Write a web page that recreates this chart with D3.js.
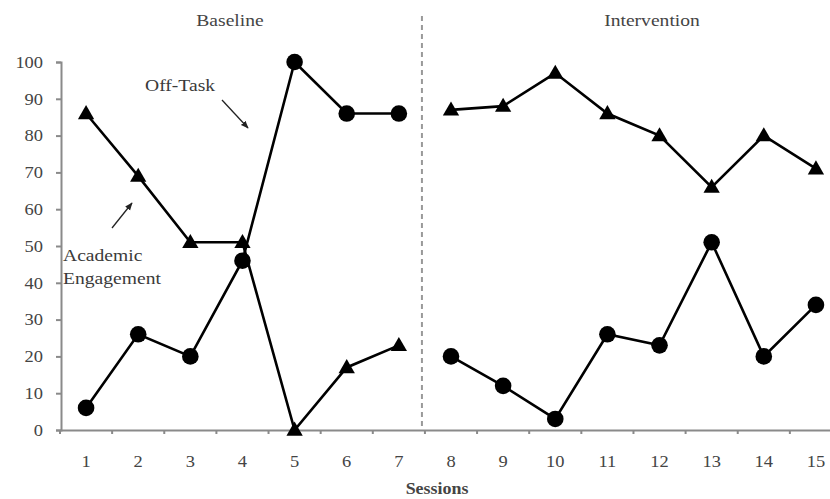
<!DOCTYPE html>
<html><head><meta charset="utf-8">
<script src="https://cdn.jsdelivr.net/npm/d3@7"></script>
<style>body{margin:0;background:#fff;}svg{display:block;}</style>
</head><body>
<svg id="chart" width="830" height="499"></svg>
<script>
const sessions = [1,2,3,4,5,6,7,8,9,10,11,12,13,14,15];
const yTicks = [0,10,20,30,40,50,60,70,80,90,100];
const phases = ["Baseline","Intervention"];
// Baseline sessions 1-7, Intervention sessions 8-15
const baselineSessions = [1,2,3,4,5,6,7];
const interventionSessions = [8,9,10,11,12,13,14,15];
const triBaseline = [86,69,51,51,0,17,23];
const circBaseline = [6,26,20,46,100,86,86];
const triIntervention = [87,88,97,86,80,66,80,71];
const circIntervention = [20,12,3,26,23,51,20,34];

const svg = d3.select("#chart");
const font = "'Liberation Serif','Times New Roman',serif";
const SX = 1.12;
const x = d3.scaleBand().domain(sessions).range([60, 842]);
const y = d3.scaleLinear().domain([0,100]).range([430, 62]);
const cx = d => x(d) + x.bandwidth()/2;
const axisColor = "#8a8a8a";

function stext(px, py, str, size, anchor, opts) {
  const t = svg.append("text")
    .attr("transform", `translate(${px},${py}) scale(${SX},1)`)
    .attr("text-anchor", anchor || "start")
    .attr("font-family", font).attr("font-size", size)
    .attr("fill", (opts && opts.fill) || "#3a3a3a").text(str);
  if (opts && opts.bold) t.attr("font-weight", "bold");
  return t;
}

// y axis
const ya = svg.append("g").attr("transform","translate(61,0)")
  .call(d3.axisLeft(y).tickValues(yTicks).tickSize(5).tickPadding(11));
ya.select(".domain").attr("stroke",axisColor).attr("stroke-width",2);
ya.selectAll(".tick line").attr("stroke",axisColor).attr("stroke-width",2);
ya.selectAll("text").attr("font-family",font).attr("font-size",16.5).attr("fill","#444")
  .attr("transform",`scale(${SX},1)`);

// x axis
const xa = svg.append("g").attr("transform","translate(0,430)")
  .call(d3.axisBottom(x).tickValues([]).tickSizeOuter(0));
xa.select(".domain").attr("stroke",axisColor).attr("stroke-width",2);
const bounds = d3.range(0,15).map(i => 60 + i*x.step());
xa.selectAll(".bt").data(bounds).enter().append("line")
  .attr("x1",d=>d).attr("x2",d=>d).attr("y1",0).attr("y2",4)
  .attr("stroke",axisColor).attr("stroke-width",2);
sessions.forEach(s => stext(cx(s), 467, s, 16.5, "middle", {fill:"#444"}));

stext(437, 494, "Sessions", 16, "middle", {bold:true, fill:"#444"});

// phase line
const phaseX = (cx(7)+cx(8))/2 - 3;
svg.append("line").attr("x1",phaseX).attr("x2",phaseX).attr("y1",16).attr("y2",430)
  .attr("stroke","#999").attr("stroke-width",2).attr("stroke-dasharray","5,4");

stext(230, 26, phases[0], 17.5, "middle", {fill:"#444"});
stext(652, 26, phases[1], 17.5, "middle", {fill:"#444"});

const line = d3.line().x(d=>cx(d[0])).y(d=>y(d[1]));
const series = [
  {s: baselineSessions, v: triBaseline, m: "tri"},
  {s: baselineSessions, v: circBaseline, m: "circ"},
  {s: interventionSessions, v: triIntervention, m: "tri"},
  {s: interventionSessions, v: circIntervention, m: "circ"}
];
series.forEach(sr => {
  const pts = sr.s.map((s,i)=>[s, sr.v[i]]);
  svg.append("path").attr("d", line(pts)).attr("fill","none")
    .attr("stroke","#000").attr("stroke-width",2.6);
});
const triSym = d3.symbol().type(d3.symbolTriangle).size(115);
series.forEach(sr => {
  const pts = sr.s.map((s,i)=>[s, sr.v[i]]);
  if (sr.m === "circ") {
    svg.selectAll(null).data(pts).enter().append("circle")
      .attr("cx",d=>cx(d[0])).attr("cy",d=>y(d[1])).attr("r",8.3).attr("fill","#000");
  } else {
    svg.selectAll(null).data(pts).enter().append("path")
      .attr("d",triSym).attr("transform",d=>`translate(${cx(d[0])},${y(d[1])+1})`).attr("fill","#000");
  }
});

// annotations
stext(145, 91, "Off-Task", 17.5, "start");
stext(63, 261, "Academic", 17.5, "start");
stext(63, 284, "Engagement", 17.5, "start");
const defs = svg.append("defs");
defs.append("marker").attr("id","ah").attr("viewBox","0 0 10 10").attr("refX",9).attr("refY",5)
  .attr("markerWidth",6).attr("markerHeight",6).attr("orient","auto")
  .append("path").attr("d","M0,1 L10,5 L0,9 Z").attr("fill","#222");
svg.append("line").attr("x1",222).attr("y1",100).attr("x2",248).attr("y2",128)
  .attr("stroke","#222").attr("stroke-width",1.3).attr("marker-end","url(#ah)");
svg.append("line").attr("x1",112).attr("y1",228).attr("x2",132).attr("y2",203)
  .attr("stroke","#222").attr("stroke-width",1.3).attr("marker-end","url(#ah)");
</script>
</body></html>
